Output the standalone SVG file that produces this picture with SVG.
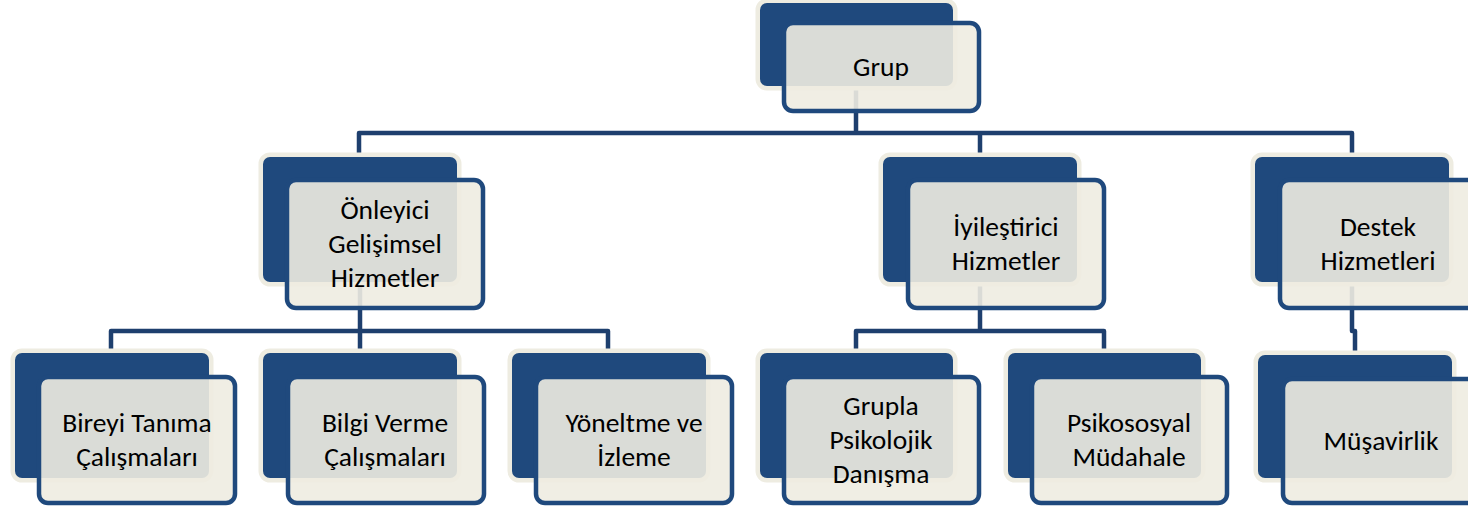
<svg xmlns="http://www.w3.org/2000/svg" width="1468" height="513" viewBox="0 0 1468 513">
<style>
.bk{fill:#1F497D;stroke:#EEECE1;stroke-width:9;paint-order:stroke}
.fr{fill:#EEECE1;fill-opacity:0.9;stroke:#1F497D;stroke-width:4.5}
.t{font-family:Carlito,"Noto Sans",sans-serif;font-size:27.5px;fill:#000;text-anchor:middle}
.ln{fill:none;stroke:#1E3F6E;stroke-width:4.5;stroke-linejoin:round}
</style>
<rect width="1468" height="513" fill="#fff"/>
<g id="connectors" class="ln">
<path d="M856,80 V133 M359,157 V133 H1352 V157 M980,133 V157"/>
<path d="M360,270 V331 M111,353 V331 H608 V353 M360,331 V353"/>
<path d="M980,270 V331 M856,353 V331 H1104 V353"/>
<path d="M1352,270 V331 H1355 V355"/>
</g>
<g id="n-grup">
<rect class="bk" x="760" y="3" width="193" height="83" rx="7"/>
<rect class="fr" x="784" y="23" width="195" height="88" rx="9"/>
<text class="t" x="881" y="76">Grup</text>
</g>
<g id="n-onleyici">
<rect class="bk" x="263" y="157" width="194" height="125" rx="7"/>
<rect class="fr" x="287" y="180" width="196" height="128" rx="9"/>
<text class="t" y="219"><tspan x="385">Önleyici</tspan><tspan x="385" dy="34">Gelişimsel</tspan><tspan x="385" dy="34">Hizmetler</tspan></text>
</g>
<g id="n-iyilestirici">
<rect class="bk" x="883" y="157" width="194" height="125" rx="7"/>
<rect class="fr" x="908" y="180" width="196" height="128" rx="9"/>
<text class="t" y="236"><tspan x="1006">İyileştirici</tspan><tspan x="1006" dy="34">Hizmetler</tspan></text>
</g>
<g id="n-destek">
<rect class="bk" x="1255" y="157" width="194" height="125" rx="7"/>
<rect class="fr" x="1280" y="180" width="196" height="128" rx="9"/>
<text class="t" y="236"><tspan x="1378">Destek</tspan><tspan x="1378" dy="34">Hizmetleri</tspan></text>
</g>
<g id="n-bireyi">
<rect class="bk" x="15" y="353" width="194" height="125" rx="7"/>
<rect class="fr" x="39" y="377" width="196" height="126" rx="9"/>
<text class="t" y="432"><tspan x="137">Bireyi Tanıma</tspan><tspan x="137" dy="34">Çalışmaları</tspan></text>
</g>
<g id="n-bilgi">
<rect class="bk" x="263" y="353" width="194" height="125" rx="7"/>
<rect class="fr" x="288" y="377" width="196" height="126" rx="9"/>
<text class="t" y="432"><tspan x="385">Bilgi Verme</tspan><tspan x="385" dy="34">Çalışmaları</tspan></text>
</g>
<g id="n-yoneltme">
<rect class="bk" x="512" y="353" width="194" height="125" rx="7"/>
<rect class="fr" x="536" y="377" width="196" height="126" rx="9"/>
<text class="t" y="432"><tspan x="634">Yöneltme ve</tspan><tspan x="634" dy="34">İzleme</tspan></text>
</g>
<g id="n-grupla">
<rect class="bk" x="760" y="353" width="193" height="125" rx="7"/>
<rect class="fr" x="784" y="377" width="195" height="126" rx="9"/>
<text class="t" y="415"><tspan x="881">Grupla</tspan><tspan x="881" dy="34">Psikolojik</tspan><tspan x="881" dy="34">Danışma</tspan></text>
</g>
<g id="n-psikososyal">
<rect class="bk" x="1008" y="353" width="193" height="125" rx="7"/>
<rect class="fr" x="1032" y="377" width="195" height="126" rx="9"/>
<text class="t" y="432"><tspan x="1129">Psikososyal</tspan><tspan x="1129" dy="34">Müdahale</tspan></text>
</g>
<g id="n-musavirlik">
<rect class="bk" x="1258" y="355" width="194" height="123" rx="7"/>
<rect class="fr" x="1283" y="379" width="196" height="124" rx="9"/>
<text class="t" x="1381" y="450">Müşavirlik</text>
</g>
</svg>
